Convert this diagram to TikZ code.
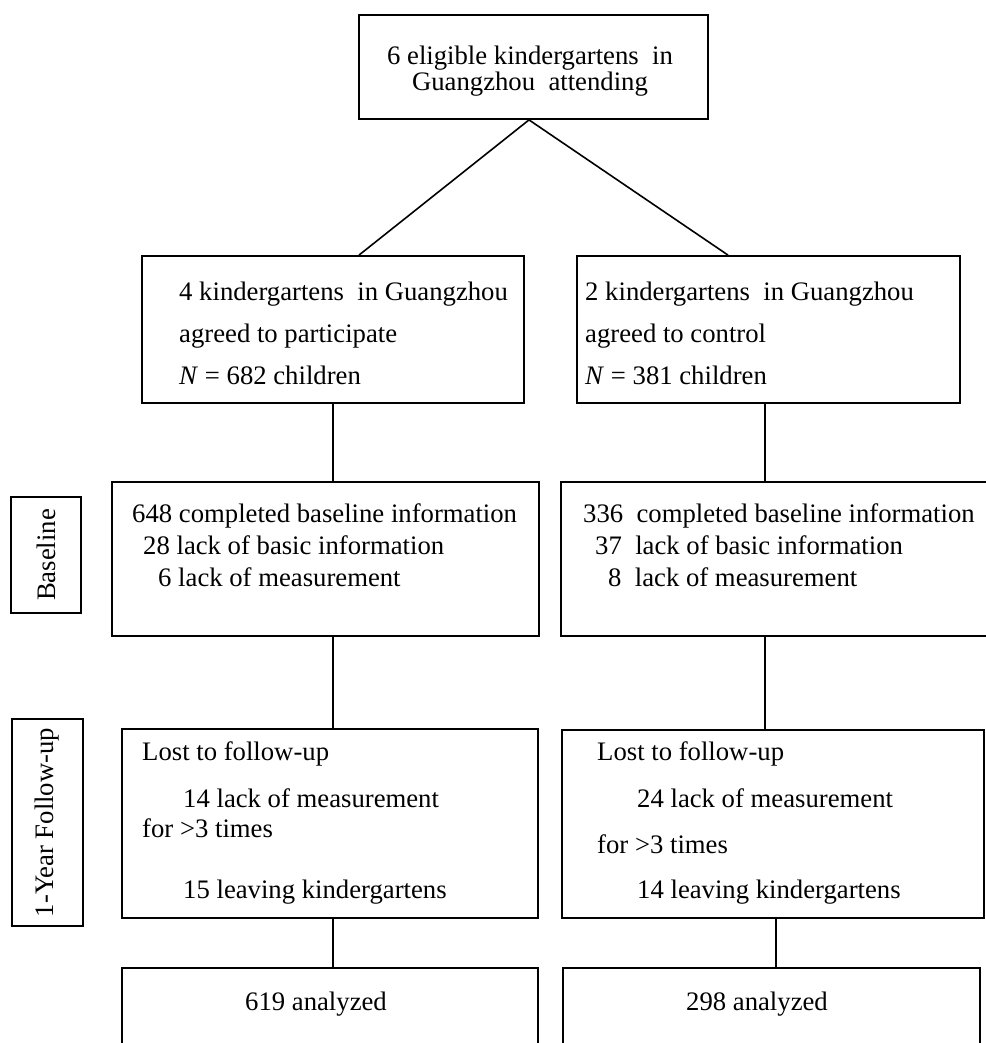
\documentclass[tikz,border=0pt]{standalone}
\usepackage{fontspec}
\setmainfont{Liberation Serif}
\begin{document}
\begin{tikzpicture}[x=1pt,y=-1pt,
  box/.style={draw, line width=1.8pt, rectangle, inner sep=0pt},
  txt/.style={anchor=base west, inner sep=0pt, font=\fontsize{26.7}{30}\selectfont},
  ctxt/.style={anchor=base, inner sep=0pt, font=\fontsize{26.7}{30}\selectfont},
  lbl/.style={draw, line width=1.8pt, rectangle, inner sep=0pt, rotate=90, font=\fontsize{26.7}{30}\selectfont},
  conn/.style={line width=1.6pt}]
\useasboundingbox (0,0) rectangle (985,1043);
\fill[white] (0,0) rectangle (985,1043);
% boxes
\node[box, minimum width=349pt, minimum height=104pt] (top) at (533.5,67) {};
\node[box, minimum width=382pt, minimum height=147pt] (ml) at (333,329.5) {};
\node[box, minimum width=383pt, minimum height=147pt] (mr) at (768.5,329.5) {};
\node[box, minimum width=427pt, minimum height=154pt] (bl) at (325.5,559) {};
\node[box, minimum width=439pt, minimum height=154pt] (br) at (780.5,559) {};
\node[box, minimum width=416pt, minimum height=189pt] (fl) at (330,823.5) {};
\node[box, minimum width=422pt, minimum height=188pt] (fr) at (773,824) {};
\node[box, minimum width=416pt, minimum height=132pt] (al) at (330,1034) {};
\node[box, minimum width=417pt, minimum height=132pt] (ar) at (771.5,1034) {};
% side labels
\node[lbl, minimum width=116pt, minimum height=70pt] (lbase) at (46,555) {Baseline};
\node[lbl, minimum width=207pt, minimum height=71pt] (lfollow) at (47.5,822.5) {1-Year Follow-up};
% texts
\node[ctxt] (t1) at (530,65) {6 eligible kindergartens\ \ in};
\node[ctxt] (t2) at (530,91) {Guangzhou\ \ attending};
\node[txt] (ml1) at (179,300) {4 kindergartens\ \ in Guangzhou};
\node[txt] (ml2) at (179,342) {agreed to participate};
\node[txt] (ml3) at (179,384) {\textit{N} = 682 children};
\node[txt] (mr1) at (585,300) {2 kindergartens\ \ in Guangzhou};
\node[txt] (mr2) at (585,342) {agreed to control};
\node[txt] (mr3) at (585,384) {\textit{N} = 381 children};
\node[txt] (bl1) at (132,522) {648 completed baseline information};
\node[txt] (bl2) at (143,554) {28 lack of basic information};
\node[txt] (bl3) at (158,586) {6 lack of measurement};
\node[txt] (br1) at (583,522) {336\ \ completed baseline information};
\node[txt] (br2) at (595,554) {37\ \ lack of basic information};
\node[txt] (br3) at (608,586) {8\ \ lack of measurement};
\node[txt] (fl1) at (142,760) {Lost to follow-up};
\node[txt] (fl2) at (183,807) {14 lack of measurement};
\node[txt] (fl3) at (142,837) {for >3 times};
\node[txt] (fl4) at (183,898) {15 leaving kindergartens};
\node[txt] (fr1) at (597,760) {Lost to follow-up};
\node[txt] (fr2) at (637,807) {24 lack of measurement};
\node[txt] (fr3) at (597,853) {for >3 times};
\node[txt] (fr4) at (637,898) {14 leaving kindergartens};
\node[ctxt] (al1) at (316,1010) {619 analyzed};
\node[ctxt] (ar1) at (757,1010) {298 analyzed};
% connectors
\coordinate (cr) at (765,0);
\coordinate (cr2) at (776,0);
\draw[conn] ([xshift=-4.5pt]top.south) -- ([xshift=26pt]ml.north);
\draw[conn] ([xshift=-4.5pt]top.south) -- ([xshift=-40.5pt]mr.north);
\draw[conn] (ml.south) -- (ml.south |- bl.north);
\draw[conn] (ml.south |- bl.south) -- (ml.south |- fl.north);
\draw[conn] (ml.south |- fl.south) -- (ml.south |- al.north);
\draw[conn] (cr |- mr.south) -- (cr |- br.north);
\draw[conn] (cr |- br.south) -- (cr |- fr.north);
\draw[conn] (cr2 |- fr.south) -- (cr2 |- ar.north);
\end{tikzpicture}
\end{document}
